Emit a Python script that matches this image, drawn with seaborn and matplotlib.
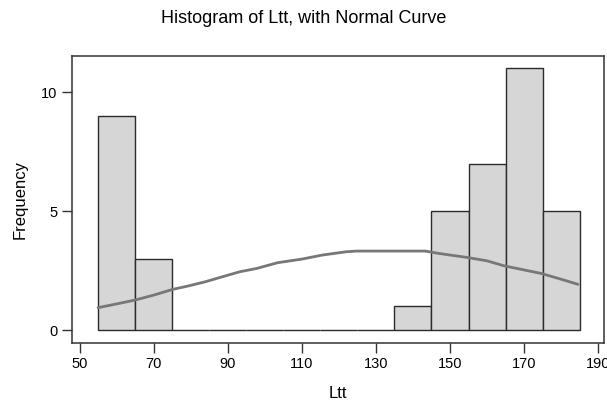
import numpy as np
import pandas as pd
import matplotlib
matplotlib.use('Agg')
import matplotlib.pyplot as plt
import seaborn as sns

# histogram bins (width 10) and counts
bin_edges = [55, 65, 75, 85, 95, 105, 115, 125, 135, 145, 155, 165, 175, 185]
bin_counts = [9, 3, 0, 0, 0, 0, 0, 0, 1, 5, 7, 11, 5]

# normal curve points
curve_x = [54.9, 59.7, 64.9, 70.0, 75.1, 79.2, 83.9, 88.5, 93.2, 97.8, 103.4, 109.9,
           115.4, 121.9, 124.7, 143.3, 147.0, 154.7, 160.0, 164.6, 169.3, 174.6, 179.5, 184.6]
curve_y = [0.94, 1.09, 1.26, 1.47, 1.71, 1.85, 2.03, 2.24, 2.45, 2.59, 2.83, 2.98,
           3.15, 3.29, 3.32, 3.32, 3.22, 3.05, 2.91, 2.70, 2.55, 2.38, 2.16, 1.92]

x_ticks = [50, 70, 90, 110, 130, 150, 170, 190]
y_ticks = [0, 5, 10]

sns.set_style('ticks')
plt.rcParams['font.family'] = ['Liberation Sans', 'DejaVu Sans']
plt.rcParams['text.color'] = 'black'
plt.rcParams['axes.labelcolor'] = 'black'
plt.rcParams['xtick.color'] = '#333333'
plt.rcParams['ytick.color'] = '#333333'
plt.rcParams['xtick.labelcolor'] = 'black'
plt.rcParams['ytick.labelcolor'] = 'black'

mids = [(a + b) / 2 for a, b in zip(bin_edges[:-1], bin_edges[1:])]
hist_df = pd.DataFrame({'Ltt': mids, 'count': bin_counts})
curve_df = pd.DataFrame({'Ltt': curve_x, 'dens': curve_y})

fig, ax = plt.subplots(figsize=(6.07, 4.03), dpi=100)
fig.subplots_adjust(left=0.118, right=0.9956, top=0.862, bottom=0.1496)

sns.histplot(data=hist_df, x='Ltt', weights='count', bins=bin_edges, ax=ax,
             color='#d6d6d6', edgecolor='#2b2b2b', linewidth=1.0, alpha=1)
sns.lineplot(data=curve_df, x='Ltt', y='dens', ax=ax, color='#777777', linewidth=2)

ax.set_xlim(47.76, 191.7)
ax.set_ylim(-0.534, 11.54)
ax.set_xticks(x_ticks)
ax.set_yticks(y_ticks)
ax.tick_params(labelsize=10.5, length=7, width=1, direction='out', pad=3)
for s in ax.spines.values():
    s.set_visible(True)
    s.set_linewidth(1.1)
    s.set_color('#333333')

ax.set_xlabel('Ltt', fontsize=12, labelpad=11)
ax.set_ylabel('Frequency', fontsize=12, labelpad=10)
fig.suptitle('Histogram of Ltt, with Normal Curve', fontsize=13, x=0.5, y=0.975)

fig.savefig('out.png', dpi=100)
